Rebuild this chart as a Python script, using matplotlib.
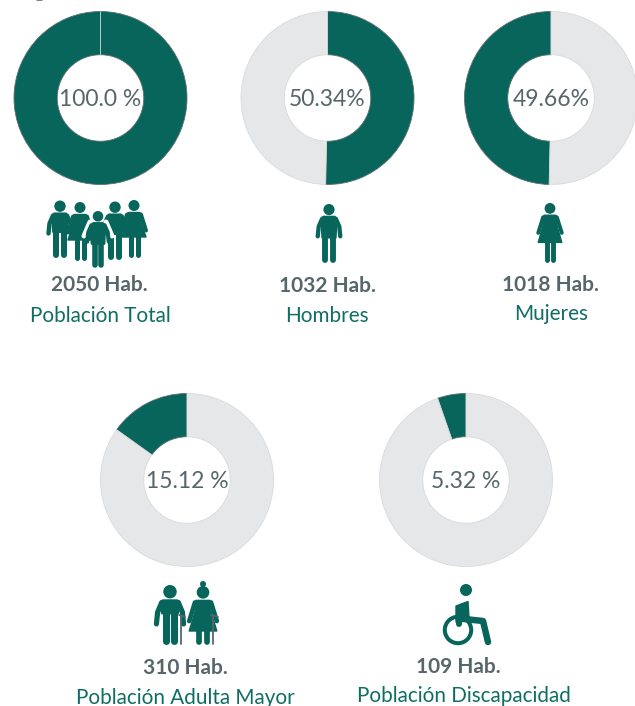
import matplotlib
matplotlib.use("Agg")
import matplotlib.pyplot as plt
from matplotlib.patches import Circle, Polygon

W, H = 635, 706
TEAL = "#08655b"
LIGHT = "#e6e7e9"
GRAY = "#56666a"
LABEL = "#0f6e64"

shares = [100.0, 50.34, 49.66, 15.12, 5.32]
pct_labels = ["100.0 %", "50.34%", "49.66%", "15.12 %", "5.32 %"]
counts = ["2050 Hab.", "1032 Hab.", "1018 Hab.", "310 Hab.", "109 Hab."]
names = ["Población Total", "Hombres", "Mujeres", "Población Adulta Mayor", "Población Discapacidad"]
directions = [False, False, True, True, True]

centers = [(100.5, 98), (327.5, 98), (551, 98), (187, 480), (466, 480)]
radius = 86.5
count_pos = [(99, 285), (327, 286), (550, 285), (185, 668), (458, 667)]
name_pos = [(100, 315.5), (327, 315.5), (551, 314.5), (185, 697.5), (464, 696.5)]

plt.rcParams["font.family"] = ["Lato", "DejaVu Sans"]
fig = plt.figure(figsize=(W / 100, H / 100), dpi=100, facecolor="white")

for share, c, ccw, lab in zip(shares, centers, directions, pct_labels):
    ax = fig.add_axes([(c[0] - radius) / W, 1 - (c[1] + radius) / H, 2 * radius / W, 2 * radius / H])
    wedges, _ = ax.pie([share, 100 - share], colors=[TEAL, LIGHT], startangle=90, counterclock=ccw,
                       radius=1, wedgeprops=dict(width=0.5, edgecolor="#5f6f70", linewidth=0.6))
    wedges[1].set_edgecolor("#d8dadc")
    ax.set_xlim(-1, 1); ax.set_ylim(-1, 1); ax.set_aspect("equal")
    ax.text(0, -0.015, lab, ha="center", va="center", fontsize=16.5, color=GRAY, clip_on=False)

ov = fig.add_axes([0, 0, 1, 1], facecolor="none")
ov.set_xlim(0, W); ov.set_ylim(H, 0); ov.axis("off")


def stroke(xs, ys, w, color=TEAL):
    ov.plot(xs, ys, color=color, lw=w * 0.72, solid_capstyle="round", solid_joinstyle="round")


def man(x, top, foot, s=1.0):
    ov.add_patch(Circle((x, top + 5.7 * s), 5.7 * s, fc=TEAL, ec="none"))
    sh = top + 13 * s
    hip = foot - 26 * s
    ov.add_patch(Polygon([(x - 6 * s, sh), (x + 6 * s, sh), (x + 7.5 * s, sh + 6 * s), (x + 6.8 * s, hip),
                          (x - 6.8 * s, hip), (x - 7.5 * s, sh + 6 * s)], fc=TEAL, ec=TEAL, lw=1.5, joinstyle="round"))
    stroke([x - 7 * s, x - 10.5 * s, x - 11.5 * s], [sh + 2, sh + 10 * s, sh + 20 * s], 4.4 * s)
    stroke([x + 7 * s, x + 10.5 * s, x + 11.5 * s], [sh + 2, sh + 10 * s, sh + 20 * s], 4.4 * s)
    stroke([x - 3.6 * s, x - 3.6 * s], [hip, foot - 2.7], 6 * s)
    stroke([x + 3.6 * s, x + 3.6 * s], [hip, foot - 2.7], 6 * s)


def woman(x, top, foot, s=1.0, hem=None):
    ov.add_patch(Circle((x, top + 5.5 * s), 5.5 * s, fc=TEAL, ec="none"))
    sh = top + 12.5 * s
    hem = foot - 20 * s if hem is None else hem
    ov.add_patch(Polygon([(x - 6 * s, sh), (x + 6 * s, sh), (x + 7 * s, sh + 10 * s), (x + 12 * s, hem),
                          (x - 12 * s, hem), (x - 7 * s, sh + 10 * s)], fc=TEAL, ec=TEAL, lw=1, joinstyle="round"))
    stroke([x - 7 * s, x - 12 * s], [sh + 2, sh + 18 * s], 4 * s)
    stroke([x + 7 * s, x + 12 * s], [sh + 2, sh + 18 * s], 4 * s)
    stroke([x - 3.5 * s, x - 3.5 * s], [hem, foot - 2.4], 5 * s)
    stroke([x + 3.5 * s, x + 3.5 * s], [hem, foot - 2.4], 5 * s)


def separator(xs, ys, w=6.5):
    ov.plot(xs, ys, color="white", lw=w * 0.72, solid_capstyle="round")


# fragment of cropped heading at the top edge
stroke([37, 42], [0.3, 0.3], 1.6, GRAY)

# group icon
man(60, 200.5, 258)
woman(134, 200, 257)
man(115, 201.5, 260)
woman(80, 202, 260)
separator([90, 84], [222, 236], 5)
separator([106, 112], [222, 236], 5)
man(98, 211, 268, 0.93)

# single icons
man(329, 204, 263, 0.98)
woman(550, 203, 262, 0.98)

# elderly icons
man(170, 585, 644, 1.18)
stroke([180.5, 180.5], [616, 644], 1.8, GRAY)
stroke([179, 185], [615, 617], 1.8, GRAY)
woman(203, 586, 644, 1.15, hem=631)
ov.add_patch(Circle((203, 584), 3, fc=TEAL, ec="none"))
stroke([213, 213], [616, 644], 1.8, GRAY)
stroke([211, 218], [615, 617], 1.8, GRAY)

# wheelchair icon
ov.add_patch(Circle((466, 590), 6, fc=TEAL, ec="none"))
ov.add_patch(Circle((458, 630), 13.2, fc="none", ec=TEAL, lw=2.9))
ov.add_patch(Polygon([(456, 606), (468, 601.5), (469, 617), (462, 619), (462, 622), (456, 622)], fc=TEAL, ec=TEAL, lw=1, joinstyle="round"))
stroke([459, 459], [618, 624], 6)
stroke([464, 483, 488], [619, 621, 642], 6.5)

for (x, y), t in zip(count_pos, counts):
    ov.text(x, y, t, ha="center", va="center", fontsize=15, color=GRAY, fontweight="bold")
for (x, y), t in zip(name_pos, names):
    ov.text(x, y, t, ha="center", va="center", fontsize=14.9, color=LABEL)

fig.savefig("out.png", dpi=100)
